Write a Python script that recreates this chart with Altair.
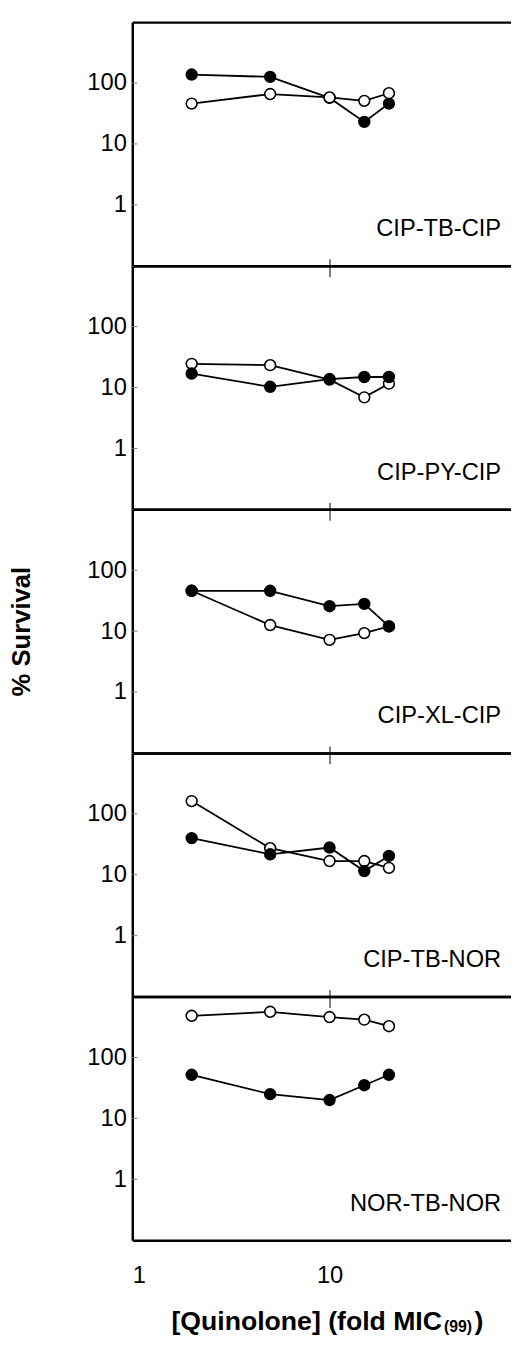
import altair as alt
import pandas as pd

# ---- data ----
x_fold = [2, 5, 10, 15, 20]
panel_names = ["CIP-TB-CIP", "CIP-PY-CIP", "CIP-XL-CIP", "CIP-TB-NOR", "NOR-TB-NOR"]

filled_1 = [138, 126, 57, 23, 46]
filled_2 = [17, 10.3, 13.8, 14.9, 14.9]
filled_3 = [46, 46, 25.7, 28, 12]
filled_4 = [40, 21.7, 28, 11.5, 20.4]
filled_5 = [52, 25, 20, 35, 52]

open_1 = [46, 66, 58, 51, 68]
open_2 = [24.5, 23.3, 13.5, 6.9, 11.6]
open_3 = [46, 12.6, 7.2, 9.3, 12]
open_4 = [162, 27.3, 16.8, 16.8, 13]
open_5 = [484, 562, 461, 418, 326]

filled_all = [filled_1, filled_2, filled_3, filled_4, filled_5]
open_all = [open_1, open_2, open_3, open_4, open_5]

y_ticks = [1, 10, 100]
x_label_ticks = [1, 10]
x_minor_ticks = [10]

y_title = "% Survival"
x_title_main = "[Quinolone] (fold MIC"
x_title_sub = "(99)"
x_title_close = ")"

FONT = "Liberation Sans"
W, H = 385, 247
xscale = alt.Scale(type="log", domain=[1, 84.1], nice=False)
yscale = alt.Scale(type="log", domain=[0.1, 1000], nice=False)


def panel(i):
    rows = []
    order = [("filled", filled_all[i]), ("open", open_all[i])]
    if i != 0:
        order = order[::-1]
    for s, vals in order:
        for xv, yv in zip(x_fold, vals):
            rows.append({"x": xv, "y": yv, "series": s})
    df = pd.DataFrame(rows)
    last = i == 4

    if last:
        xaxis_bottom = alt.Axis(
            values=x_label_ticks, format="d", title=None, ticks=False,
            labelFontSize=24, labelFont=FONT, labelColor="black", labelPadding=24,
            domainColor="black", domainWidth=2.5, grid=False, minExtent=0,
        )
    else:
        xaxis_bottom = alt.Axis(
            values=x_minor_ticks, labels=False, title=None, tickSize=11,
            tickColor="black", tickWidth=1, domainColor="black", domainWidth=2.5,
            grid=False, minExtent=0, maxExtent=0,
        )
    if i == 0:
        xaxis_top = alt.Axis(orient="top", values=x_minor_ticks, labels=False, title=None,
                             ticks=False, domainColor="black", domainWidth=2.5, grid=False,
                             minExtent=0, maxExtent=0)
    else:
        xaxis_top = alt.Axis(orient="top", values=x_minor_ticks, labels=False, title=None,
                             tickSize=7, tickColor="black", tickWidth=1,
                             domainColor="black", domainWidth=2.5, grid=False,
                             minExtent=0, maxExtent=0)

    yaxis_kw = dict(
        values=y_ticks, format="d", ticks=False, labelFontSize=24, labelFont=FONT,
        labelColor="black", labelPadding=6, domainColor="black", domainWidth=2.5,
        grid=False,
    )
    if i == 2:
        yaxis = alt.Axis(title=y_title, titleFont=FONT, titleFontSize=26,
                         titleFontWeight="bold", titleColor="black", titleX=-112,
                         titleY=H / 2, titleAngle=270, titleAlign="center",
                         titleBaseline="middle", **yaxis_kw)
    else:
        yaxis = alt.Axis(title=None, **yaxis_kw)

    lines = alt.Chart(df).mark_line(color="black", strokeWidth=1.8).encode(
        x=alt.X("x:Q", scale=xscale, axis=xaxis_bottom),
        y=alt.Y("y:Q", scale=yscale, axis=yaxis),
        detail="series:N",
    )
    points = alt.Chart(df).mark_point(
        shape="circle", filled=True, size=120, stroke="black", strokeWidth=1.6, opacity=1
    ).encode(
        x=alt.X("x:Q", scale=xscale, axis=xaxis_top),
        y=alt.Y("y:Q", scale=yscale, axis=None),
        fill=alt.Fill("series:N", scale=alt.Scale(domain=["filled", "open"],
                                                  range=["black", "white"]), legend=None),
    )
    tdf = pd.DataFrame({"y": y_ticks, "x0": [1.0] * len(y_ticks), "x1": [1.06] * len(y_ticks)})
    yticks = alt.Chart(tdf).mark_rule(color="#777", strokeWidth=1).encode(
        x=alt.X("x0:Q", scale=xscale, axis=None),
        x2="x1:Q",
        y=alt.Y("y:Q", scale=yscale, axis=None),
    )
    label = alt.Chart(pd.DataFrame({"label": [panel_names[i]]})).mark_text(
        align="right", baseline="alphabetic", fontSize=24, font=FONT, color="black"
    ).encode(x=alt.value(374), y=alt.value(217), text="label:N")

    layers = [lines, yticks, points, label]
    if last:
        t_main = alt.Chart(pd.DataFrame({"t": [x_title_main]})).mark_text(
            align="right", baseline="alphabetic", fontSize=27, fontWeight="bold",
            font=FONT, color="black"
        ).encode(x=alt.value(314), y=alt.value(338), text="t:N")
        t_sub = alt.Chart(pd.DataFrame({"t": [x_title_sub]})).mark_text(
            align="left", baseline="alphabetic", fontSize=16, fontWeight="bold",
            font=FONT, color="black"
        ).encode(x=alt.value(316), y=alt.value(340), text="t:N")
        t_close = alt.Chart(pd.DataFrame({"t": [x_title_close]})).mark_text(
            align="left", baseline="alphabetic", fontSize=27, fontWeight="bold",
            font=FONT, color="black"
        ).encode(x=alt.value(347), y=alt.value(338), text="t:N")
        layers += [t_main, t_sub, t_close]

    return alt.layer(*layers).resolve_axis(x="independent", y="independent").properties(
        width=W, height=H
    )


chart = alt.vconcat(*[panel(i) for i in range(5)], spacing=0, bounds="flush").properties(
    padding={"left": 0, "top": 4, "right": -2, "bottom": 4}
).configure_view(stroke=None).configure(font=FONT)

chart.save("out.html", embed_options={"renderer": "svg", "actions": False})
